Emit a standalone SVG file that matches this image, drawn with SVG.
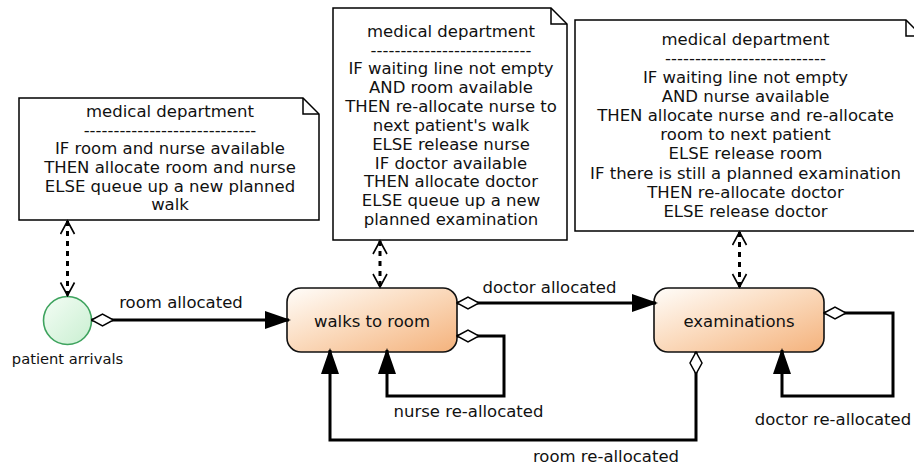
<svg xmlns="http://www.w3.org/2000/svg" width="914" height="466" viewBox="0 0 914 466">
<defs>
<linearGradient id="stateFill" x1="0" y1="0" x2="1" y2="1">
<stop offset="0" stop-color="#fffdfa"/>
<stop offset="0.45" stop-color="#fbdcc0"/>
<stop offset="1" stop-color="#f4b27c"/>
</linearGradient>
<linearGradient id="startFill" x1="0" y1="0" x2="1" y2="1">
<stop offset="0" stop-color="#f4fdf5"/>
<stop offset="1" stop-color="#c9efd1"/>
</linearGradient>
<marker id="tri" markerUnits="userSpaceOnUse" markerWidth="28" markerHeight="20" refX="24" refY="9" orient="auto">
<path d="M0,0 L26,9 L0,18 Z" fill="#000"/>
</marker>
<marker id="dia" markerUnits="userSpaceOnUse" markerWidth="26" markerHeight="16" refX="1" refY="7" orient="auto">
<path d="M1,7 L12,1 L23,7 L12,13 Z" fill="#fff" stroke="#000" stroke-width="1.5"/>
</marker>
<marker id="vee" markerUnits="userSpaceOnUse" markerWidth="20" markerHeight="20" refX="14" refY="8" orient="auto-start-reverse">
<path d="M1,1 L14,8 L1,15" fill="none" stroke="#000" stroke-width="1.6"/>
</marker>
</defs>
<style>
.note{fill:#fff;stroke:#000;stroke-width:1.5}
.fold{fill:none;stroke:#000;stroke-width:1.5}
.nt{font-family:"DejaVu Sans",sans-serif;font-size:16.5px;fill:#111;text-anchor:middle}
.lbl{font-family:"DejaVu Sans",sans-serif;font-size:16.5px;fill:#111;text-anchor:middle}
.state{fill:url(#stateFill);stroke:#111;stroke-width:1.6}
.flow{fill:none;stroke:#000;stroke-width:3;marker-start:url(#dia);marker-end:url(#tri)}
.link{fill:none;stroke:#000;stroke-width:3;stroke-dasharray:5 5;marker-start:url(#vee);marker-end:url(#vee)}
</style>

<g id="note1">
<path class="note" d="M19,98 H303 L319,114 V220 H19 Z"/>
<path class="fold" d="M303,98 V114 H319"/>
<text class="nt" x="170" y="117.3">medical department</text>
<text class="nt" x="170" y="135.8">-----------------------------</text>
<text class="nt" x="170" y="154.4">IF room and nurse available</text>
<text class="nt" x="170" y="172.9">THEN allocate room and nurse</text>
<text class="nt" x="170" y="191.5">ELSE queue up a new planned</text>
<text class="nt" x="170" y="210">walk</text>
</g>

<g id="note2">
<path class="note" d="M333,8 H551 L567,24 V240 H333 Z"/>
<path class="fold" d="M551,8 V24 H567"/>
<text class="nt" x="451" y="36.7">medical department</text>
<text class="nt" x="451" y="55.5">---------------------------</text>
<text class="nt" x="451" y="74.4">IF waiting line not empty</text>
<text class="nt" x="451" y="93.2">AND room available</text>
<text class="nt" x="451" y="112">THEN re-allocate nurse to</text>
<text class="nt" x="451" y="130.9">next patient's walk</text>
<text class="nt" x="451" y="149.7">ELSE release nurse</text>
<text class="nt" x="451" y="168.5">IF doctor available</text>
<text class="nt" x="451" y="187.3">THEN allocate doctor</text>
<text class="nt" x="451" y="206.2">ELSE queue up a new</text>
<text class="nt" x="451" y="225">planned examination</text>
</g>

<g id="note3">
<path class="note" d="M575,20 H906 L922,36 V231 H575 Z"/>
<path class="fold" d="M906,20 V36 H922"/>
<text class="nt" x="745.5" y="45">medical department</text>
<text class="nt" x="745.5" y="64.1">---------------------------</text>
<text class="nt" x="745.5" y="83.1">IF waiting line not empty</text>
<text class="nt" x="745.5" y="102.2">AND nurse available</text>
<text class="nt" x="745.5" y="121.3">THEN allocate nurse and re-allocate</text>
<text class="nt" x="745.5" y="140.4">room to next patient</text>
<text class="nt" x="745.5" y="159.4">ELSE release room</text>
<text class="nt" x="745.5" y="178.5">IF there is still a planned examination</text>
<text class="nt" x="745.5" y="197.6">THEN re-allocate doctor</text>
<text class="nt" x="745.5" y="216.6">ELSE release doctor</text>
</g>

<g id="patient-arrivals">
<circle cx="67.5" cy="320.5" r="24" fill="url(#startFill)" stroke="#3ea35e" stroke-width="1.6"/>
<text class="lbl" x="67.5" y="364" style="font-size:14.7px">patient arrivals</text>
</g>

<g id="walks-to-room">
<rect class="state" x="287" y="288" width="170" height="64" rx="14" ry="14"/>
<text class="lbl" x="372" y="327">walks to room</text>
</g>

<g id="examinations">
<rect class="state" x="654" y="288" width="170" height="64" rx="14" ry="14"/>
<text class="lbl" x="739" y="327">examinations</text>
</g>

<g id="connectors">
<path class="flow" d="M91.5,320 H289"/>
<path class="flow" d="M457,303 H656"/>
<path class="flow" d="M457,336 H504 V396 H387 V350"/>
<path class="flow" d="M696,352 V440 H330 V350"/>
<path class="flow" d="M824,313 H893 V396 H782 V350"/>
<path class="link" d="M67.5,221 V295.5"/>
<path class="link" d="M380,241 V287"/>
<path class="link" d="M739.5,232 V287"/>
<text class="lbl" x="181" y="308">room allocated</text>
<text class="lbl" x="549.5" y="293">doctor allocated</text>
<text class="lbl" x="468.5" y="416.5">nurse re-allocated</text>
<text class="lbl" x="606" y="462">room re-allocated</text>
<text class="lbl" x="833" y="425">doctor re-allocated</text>
</g>
</svg>
